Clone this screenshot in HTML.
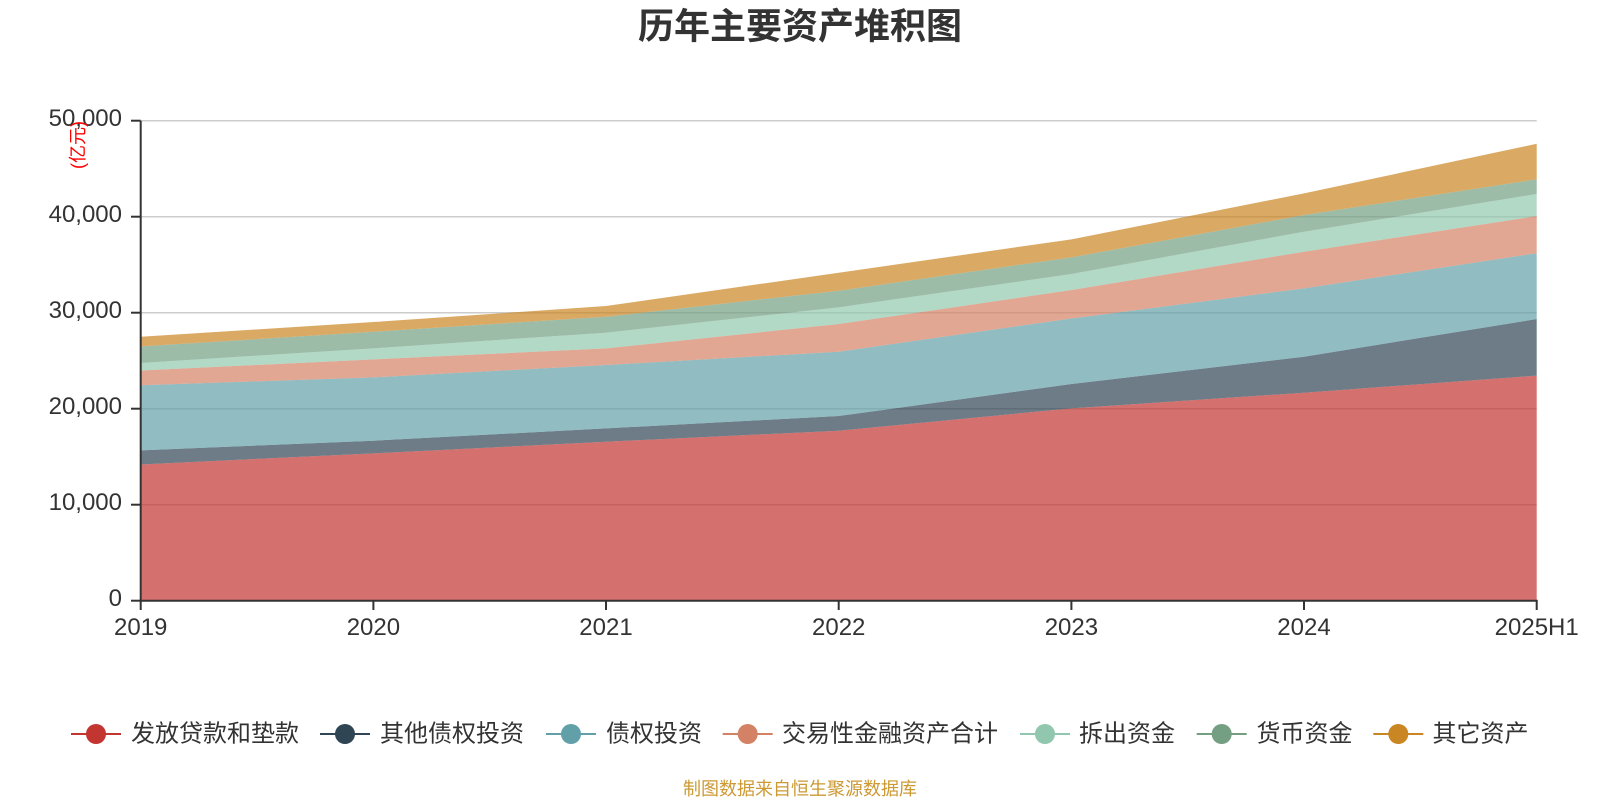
<!DOCTYPE html>
<html>
<head>
<meta charset="utf-8">
<style>
  html, body { margin:0; padding:0; background:#fff; }
  svg { display:block; }
  text { font-family: "Liberation Sans", "Noto Sans CJK SC", sans-serif; }
</style>
</head>
<body>
<svg width="1600" height="800" viewBox="0 0 1600 800" xmlns="http://www.w3.org/2000/svg">
  <rect x="0" y="0" width="1600" height="800" fill="#fff"/>

  <!-- Title -->
  <text x="800" y="26" text-anchor="middle" dominant-baseline="central" font-size="36" font-weight="bold" fill="#333">历年主要资产堆积图</text>

  <!-- Grid lines -->
  <g stroke="#cccccc" stroke-width="1.5">
    <line x1="140.7" y1="120.7" x2="1536.7" y2="120.7"/>
    <line x1="140.7" y1="216.7" x2="1536.7" y2="216.7"/>
    <line x1="140.7" y1="312.7" x2="1536.7" y2="312.7"/>
    <line x1="140.7" y1="408.7" x2="1536.7" y2="408.7"/>
    <line x1="140.7" y1="504.7" x2="1536.7" y2="504.7"/>
  </g>

  <!-- Stacked areas -->
  <g fill-opacity="0.7" stroke="none">
    <polygon fill="#c23531" points="140.7,464.44 373.4,453.37 606.0,441.70 838.7,430.70 1071.4,408.36 1304.0,392.70 1536.7,375.62 1536.7,600.7 140.7,600.7"/>
    <polygon fill="#2f4554" points="140.7,450.34 373.4,440.70 606.0,428.37 838.7,416.03 1071.4,384.04 1304.0,356.70 1536.7,319.05 1536.7,375.62 1304.0,392.70 1071.4,408.36 838.7,430.70 606.0,441.70 373.4,453.37 140.7,464.44"/>
    <polygon fill="#61a0a8" points="140.7,385.30 373.4,377.37 606.0,365.03 838.7,351.70 1071.4,318.46 1304.0,288.36 1536.7,253.22 1536.7,319.05 1304.0,356.70 1071.4,384.04 838.7,416.03 606.0,428.37 373.4,440.70 140.7,450.34"/>
    <polygon fill="#d48265" points="140.7,370.51 373.4,359.37 606.0,348.36 838.7,324.04 1071.4,290.03 1304.0,251.70 1536.7,216.03 1536.7,253.22 1304.0,288.36 1071.4,318.46 838.7,351.70 606.0,365.03 373.4,377.37 140.7,385.30"/>
    <polygon fill="#91c7ae" points="140.7,362.94 373.4,348.36 606.0,332.70 838.7,307.36 1071.4,274.03 1304.0,231.70 1536.7,193.98 1536.7,216.03 1304.0,251.70 1071.4,290.03 838.7,324.04 606.0,348.36 373.4,359.37 140.7,370.51"/>
    <polygon fill="#749f83" points="140.7,346.42 373.4,331.70 606.0,316.70 838.7,290.70 1071.4,257.37 1304.0,215.03 1536.7,179.28 1536.7,193.98 1304.0,231.70 1071.4,274.03 838.7,307.36 606.0,332.70 373.4,348.36 140.7,362.94"/>
    <polygon fill="#ca8622" points="140.7,336.79 373.4,322.03 606.0,306.04 838.7,272.70 1071.4,239.37 1304.0,193.36 1536.7,143.76 1536.7,179.28 1304.0,215.03 1071.4,257.37 838.7,290.70 606.0,316.70 373.4,331.70 140.7,346.42"/>
  </g>

  <!-- Axes -->
  <g stroke="#333" stroke-width="2" fill="none">
    <line x1="140.7" y1="120.7" x2="140.7" y2="601.7"/>
    <line x1="139.7" y1="600.7" x2="1537.7" y2="600.7"/>
    <line x1="131" y1="120.7" x2="140.7" y2="120.7"/>
    <line x1="131" y1="216.7" x2="140.7" y2="216.7"/>
    <line x1="131" y1="312.7" x2="140.7" y2="312.7"/>
    <line x1="131" y1="408.7" x2="140.7" y2="408.7"/>
    <line x1="131" y1="504.7" x2="140.7" y2="504.7"/>
    <line x1="131" y1="600.7" x2="140.7" y2="600.7"/>
    <line x1="140.7" y1="600.7" x2="140.7" y2="610"/>
    <line x1="373.4" y1="600.7" x2="373.4" y2="610"/>
    <line x1="606.0" y1="600.7" x2="606.0" y2="610"/>
    <line x1="838.7" y1="600.7" x2="838.7" y2="610"/>
    <line x1="1071.4" y1="600.7" x2="1071.4" y2="610"/>
    <line x1="1304.0" y1="600.7" x2="1304.0" y2="610"/>
    <line x1="1536.7" y1="600.7" x2="1536.7" y2="610"/>
  </g>

  <!-- Y labels -->
  <g font-size="24" fill="#333" text-anchor="end">
    <text x="122" y="126.2">50,000</text>
    <text x="122" y="222.2">40,000</text>
    <text x="122" y="318.2">30,000</text>
    <text x="122" y="414.2">20,000</text>
    <text x="122" y="510.2">10,000</text>
    <text x="122" y="606.2">0</text>
  </g>

  <!-- Y axis unit -->
  <text x="0" y="0" transform="translate(78,145) rotate(-90)" text-anchor="middle" dominant-baseline="central" font-size="18" fill="#ff0000">(亿元)</text>

  <!-- X labels -->
  <g font-size="24" fill="#333" text-anchor="middle">
    <text x="140.7" y="635">2019</text>
    <text x="373.4" y="635">2020</text>
    <text x="606.0" y="635">2021</text>
    <text x="838.7" y="635">2022</text>
    <text x="1071.4" y="635">2023</text>
    <text x="1304.0" y="635">2024</text>
    <text x="1536.7" y="635">2025H1</text>
  </g>

  <!-- Legend -->
  <g font-size="24" fill="#333" dominant-baseline="central">
    <line x1="71" y1="734" x2="121" y2="734" stroke="#c23531" stroke-width="2"/>
    <circle cx="96" cy="734" r="10" fill="#c23531"/>
    <text x="131" y="734">发放贷款和垫款</text>

    <line x1="320" y1="734" x2="370" y2="734" stroke="#2f4554" stroke-width="2"/>
    <circle cx="345" cy="734" r="10" fill="#2f4554"/>
    <text x="380" y="734">其他债权投资</text>

    <line x1="546" y1="734" x2="596" y2="734" stroke="#61a0a8" stroke-width="2"/>
    <circle cx="571" cy="734" r="10" fill="#61a0a8"/>
    <text x="606" y="734">债权投资</text>

    <line x1="722.7" y1="734" x2="772.7" y2="734" stroke="#d48265" stroke-width="2"/>
    <circle cx="747.7" cy="734" r="10" fill="#d48265"/>
    <text x="782" y="734">交易性金融资产合计</text>

    <line x1="1020" y1="734" x2="1070" y2="734" stroke="#91c7ae" stroke-width="2"/>
    <circle cx="1045" cy="734" r="10" fill="#91c7ae"/>
    <text x="1079" y="734">拆出资金</text>

    <line x1="1196.7" y1="734" x2="1246.7" y2="734" stroke="#749f83" stroke-width="2"/>
    <circle cx="1221.7" cy="734" r="10" fill="#749f83"/>
    <text x="1256.5" y="734">货币资金</text>

    <line x1="1373.3" y1="734" x2="1423.3" y2="734" stroke="#ca8622" stroke-width="2"/>
    <circle cx="1398.3" cy="734" r="10" fill="#ca8622"/>
    <text x="1432.5" y="734">其它资产</text>
  </g>

  <!-- Footer -->
  <text x="800" y="789" text-anchor="middle" dominant-baseline="central" font-size="18" fill="#cc9933">制图数据来自恒生聚源数据库</text>
</svg>
</body>
</html>
